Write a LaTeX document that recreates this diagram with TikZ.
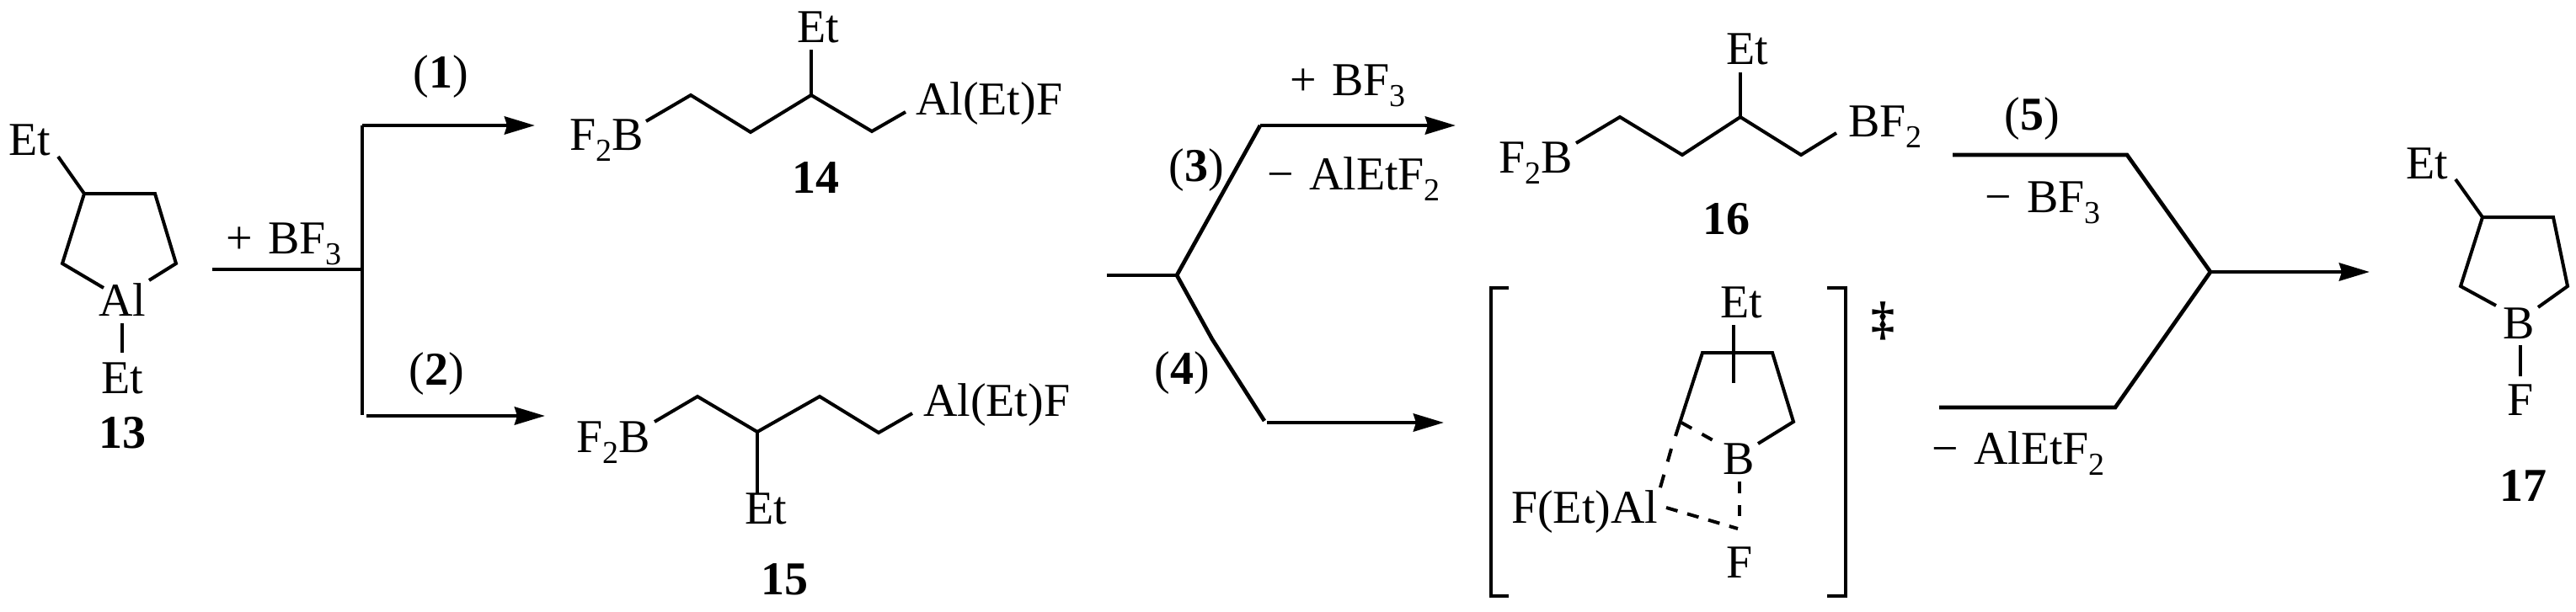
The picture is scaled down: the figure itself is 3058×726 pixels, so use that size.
\documentclass[tikz,border=0pt]{standalone}
\usepackage{fontspec}
\setmainfont{Liberation Serif}
\usetikzlibrary{arrows.meta}
\newcommand{\sbs}[1]{\raisebox{-0.24em}{\fontsize{38}{38}\selectfont #1}}
\newcommand{\gp}{\hspace{.33em}}
\tikzset{
  x=1pt,y=-1pt,
  bond/.style={line width=4pt,line join=miter,line cap=butt},
  dbond/.style={line width=4pt,dash pattern=on 14pt off 14pt},
  flow/.style={line width=4.7pt,line join=miter},
  rxn/.style={line width=4.7pt,-{Stealth[length=36pt,width=21pt,inset=3pt]}},
  lab/.style={inner sep=0pt,outer sep=0pt,font=\fontsize{56}{60}\selectfont},
  labc/.style={lab,anchor=base},
  labl/.style={lab,anchor=base west},
}
\begin{document}
\begin{tikzpicture}
\useasboundingbox (0,0) rectangle (3058,726);
% ---- 13
\node[labc] (a1) at (35,184) {Et};
\node[labc] (a2) at (145,375) {Al};
\node[labc] (a3) at (145,467) {Et};
\node[labc] (n13) at (145,532) {\textbf{13}};
\draw[bond] (69,186)--(100,230)--(184,230)--(209,313)--(177,333);
\draw[bond] (100,230)--(74,313)--(123,342);
\draw[bond] (145,384)--(145,419);
% ---- scheme 1
\coordinate (j0) at (252,320); \coordinate (j1) at (430,320);
\coordinate (t1) at (430,149); \coordinate (t2) at (430,493);
\coordinate (e1) at (635,149); \coordinate (s2) at (435,494); \coordinate (e2) at (647,494);
\draw[flow] (j0)--(j1);
\draw[flow] (t1)--(t2);
\draw[rxn] (t1)--(e1);
\draw[rxn] (s2)--(e2);
\node[labl] (r0) at (268,301) {+\gp BF\sbs{3}};
\node[labc] (r1) at (523,104) {(\textbf{1})};
\node[labc] (r2) at (518,457) {(\textbf{2})};
% ---- 14
\node[labl] (b1) at (676,178) {F\sbs{2}B};
\node[labc] (b2) at (971,50) {Et};
\node[labl] (b3) at (1087,136) {Al(Et)F};
\node[labc] (n14) at (968,229) {\textbf{14}};
\draw[bond] (767,144)--(820,113)--(891,157)--(963,113)--(1035,156)--(1075,133);
\draw[bond] (963,113)--(963,59);
% ---- 15
\node[labl] (c1) at (684,537) {F\sbs{2}B};
\node[labc] (c2) at (909,622) {Et};
\node[labl] (c3) at (1096,494) {Al(Et)F};
\node[labc] (n15) at (931,706) {\textbf{15}};
\draw[bond] (777,501)--(828,471)--(899,513)--(973,471)--(1043,514)--(1083,491);
\draw[bond] (899,513)--(899,586);
% ---- scheme 2
\coordinate (k0) at (1314,327); \coordinate (k1) at (1397,327);
\coordinate (k2) at (1496,149); \coordinate (k3) at (1728,149);
\coordinate (k4) at (1439,403); \coordinate (k5) at (1501,500);
\coordinate (k6) at (1504,502); \coordinate (k7) at (1714,502);
\draw[flow] (k0)--(k1);
\draw[flow] (k1)--(k2);
\draw[rxn] (k2)--(k3);
\draw[flow] (k1)--(k4)--(k5);
\draw[rxn] (k6)--(k7);
\node[labl] (r3a) at (1531,113) {+\gp BF\sbs{3}};
\node[labl] (r3b) at (1504,225) {−\gp AlEtF\sbs{2}};
\node[labc] (r3) at (1420,215) {(\textbf{3})};
\node[labc] (r4) at (1403,456) {(\textbf{4})};
% ---- 16
\node[labl] (d1) at (1779,205) {F\sbs{2}B};
\node[labc] (d2) at (2074,76) {Et};
\node[labl] (d3) at (2194,162) {BF\sbs{2}};
\node[labc] (n16) at (2049,278) {\textbf{16}};
\draw[bond] (1871,170)--(1923,139)--(1997,184)--(2066,139)--(2138,184)--(2180,158);
\draw[bond] (2066,139)--(2066,86);
% ---- transition state
\draw[bond] (1791,342)--(1770,342)--(1770,708)--(1791,708);
\draw[bond] (2169,342)--(2191,342)--(2191,708)--(2169,708);
\node[labc] (ds) at (2235,397) {\textbf{‡}};
\node[labc] (f1) at (2067,377) {Et};
\node[labc] (f2) at (2064,563) {B};
\node[labc] (f3) at (2065,686) {F};
\node[labl] (f4) at (1794,621) {F(Et)Al};
\draw[bond] (2058,386)--(2058,455);
\draw[bond] (1989,518)--(2021,419)--(2104,419)--(2129,501)--(2087,527);
\draw[dbond] (1996,502)--(2037,525);
\draw[dbond,dash pattern=on 16pt off 16pt] (1984,533)--(1969,586);
\draw[dbond,dash pattern=on 14pt off 12pt] (1978,603)--(2063,628);
\draw[dbond] (2065,572)--(2065,613);
% ---- scheme 3
\coordinate (m0) at (2318,184); \coordinate (m1) at (2525,184);
\coordinate (m2) at (2624,323); \coordinate (m3) at (2511,484); \coordinate (m4) at (2302,484);
\coordinate (m5) at (2621,323); \coordinate (m6) at (2813,323);
\draw[flow] (m0)--(m1)--(m2)--(m3)--(m4);
\draw[rxn] (m5)--(m6);
\node[labc] (r5) at (2412,154) {(\textbf{5})};
\node[labl] (r5a) at (2356,252) {−\gp BF\sbs{3}};
\node[labl] (r5b) at (2293,551) {−\gp AlEtF\sbs{2}};
% ---- 17
\node[labl] (g1) at (2856,212) {Et};
\node[labc] (g2) at (2990,402) {B};
\node[labc] (g3) at (2992,493) {F};
\node[labc] (n17) at (2995,595) {\textbf{17}};
\draw[bond] (2915,213)--(2947,258)--(3031,258)--(3048,340)--(3013,365);
\draw[bond] (2947,258)--(2921,340)--(2963,363);
\draw[bond] (2992,410)--(2992,447);
\end{tikzpicture}
\end{document}
